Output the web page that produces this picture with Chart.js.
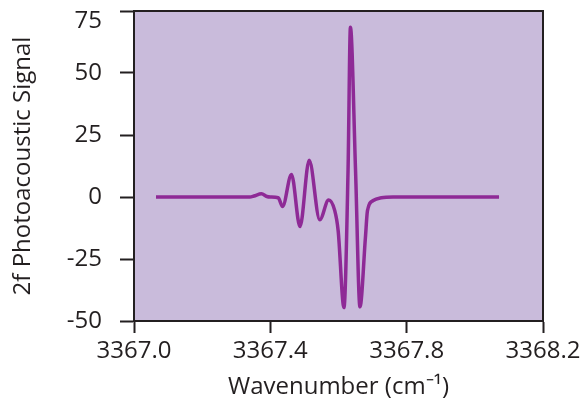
<!DOCTYPE html>
<html>
<head>
<meta charset="utf-8">
<script src="https://cdn.jsdelivr.net/npm/chart.js"></script>
<style>
  body { margin: 0; background: #fff; }
  #wrap { width: 581px; height: 407px; }
</style>
</head>
<body>
<div id="wrap"><canvas id="lineChart"></canvas></div>
<script>
    // wavenumber (cm-1) and 2f signal
    var wavenumbers = [3367.0645, 3367.340, 3367.352, 3367.374, 3367.390, 3367.400, 3367.423, 3367.436,
        3367.462, 3367.487, 3367.514, 3367.545, 3367.571, 3367.589, 3367.599, 3367.616, 3367.628,
        3367.635, 3367.650, 3367.663, 3367.679, 3367.685, 3367.702, 3367.726, 3367.760, 3368.071];
    var signal = [0, 0, 0.4, 1.3, 0.2, 0, -0.3, -3.8,
        9.1, -11.9, 14.8, -9.2, -1.2, -5.5, -13.6, -44.6, 10.7,
        68.4, 10.7, -44.3, -16.3, -5.5, -1.4, -0.3, 0, 0];

    var xTicks = [3367.0, 3367.4, 3367.8, 3368.2];
    var yTicks = [-50, -25, 0, 25, 50, 75];

    var ink = '#231f20';
    var fontName = "'Open Sans', sans-serif";

    // plot background and the closed frame around it
    var frame = {
        id: 'frame',
        beforeDatasetsDraw: function (chart) {
            var a = chart.chartArea, ctx = chart.ctx;
            ctx.save();
            ctx.fillStyle = '#c9bbdb';
            ctx.fillRect(a.left, a.top, a.right - a.left, a.bottom - a.top);
            ctx.restore();
        },
        afterDraw: function (chart) {
            var a = chart.chartArea, ctx = chart.ctx;
            ctx.save();
            ctx.strokeStyle = ink;
            ctx.lineWidth = 2;
            ctx.strokeRect(a.left, a.top, a.right - a.left, a.bottom - a.top);
            ctx.restore();
        }
    };

    var points = [];
    for (var i = 0; i < wavenumbers.length; i++) {
        points.push({ x: wavenumbers[i], y: signal[i] });
    }

    var topY = yTicks[yTicks.length - 1];

    var ctx = document.getElementById('lineChart').getContext('2d');
    var lineChart = new Chart(ctx, {
        type: 'line',
        data: {
            datasets: [{
                data: points,
                borderColor: '#8e2a96',
                borderWidth: 3.5,
                pointRadius: 0,
                fill: false,
                cubicInterpolationMode: 'monotone'
            }]
        },
        options: {
            responsive: true,
            maintainAspectRatio: false,
            animation: false,
            layout: { padding: { top: 11, right: 38, left: 0, bottom: 0 } },
            plugins: { legend: { display: false }, tooltip: { enabled: false } },
            scales: {
                x: {
                    type: 'linear',
                    position: 'bottom',
                    min: 3367.0,
                    max: 3368.2,
                    afterBuildTicks: function (s) { s.ticks = xTicks.map(function (v) { return { value: v }; }); },
                    afterFit: function (s) { s.height = 86; s.paddingLeft = 0; s.paddingRight = 0; },
                    grid: { drawOnChartArea: false, drawTicks: true, tickLength: 12, tickWidth: 2, tickColor: ink },
                    border: { color: ink, width: 2 },
                    ticks: {
                        color: ink, padding: 4, maxRotation: 0,
                        font: { family: fontName, size: 24 },
                        callback: function (v) { return v.toFixed(1); }
                    },
                    title: {
                        display: true, text: 'Wavenumber (cm\u207B\u00B9)', color: ink,
                        font: { family: fontName, size: 24 }, padding: { top: 0, bottom: 5 }
                    }
                },
                y: {
                    min: -50,
                    max: 75,
                    afterBuildTicks: function (s) { s.ticks = yTicks.map(function (v) { return { value: v }; }); },
                    afterFit: function (s) { s.width = 134; s.paddingTop = 0; s.paddingBottom = 0; },
                    grid: { drawOnChartArea: false, drawTicks: true, tickLength: 14, tickWidth: 2, tickColor: ink },
                    border: { color: ink, width: 2 },
                    ticks: {
                        color: ink, padding: 18,
                        // top label sits a little below its tick, as in the original
                        font: function (c) {
                            var top = c.tick && c.tick.value === topY;
                            return { family: fontName, size: 24, lineHeight: top ? 0.85 : 1.2 };
                        },
                        callback: function (v) { return v === topY ? ['', String(v)] : String(v); }
                    },
                    title: {
                        display: true, text: '2f Photoacoustic Signal', color: ink,
                        font: { family: fontName, size: 24 }, padding: { top: 9, bottom: 0 }
                    }
                }
            }
        },
        plugins: [frame]
    });
</script>
</body>
</html>
